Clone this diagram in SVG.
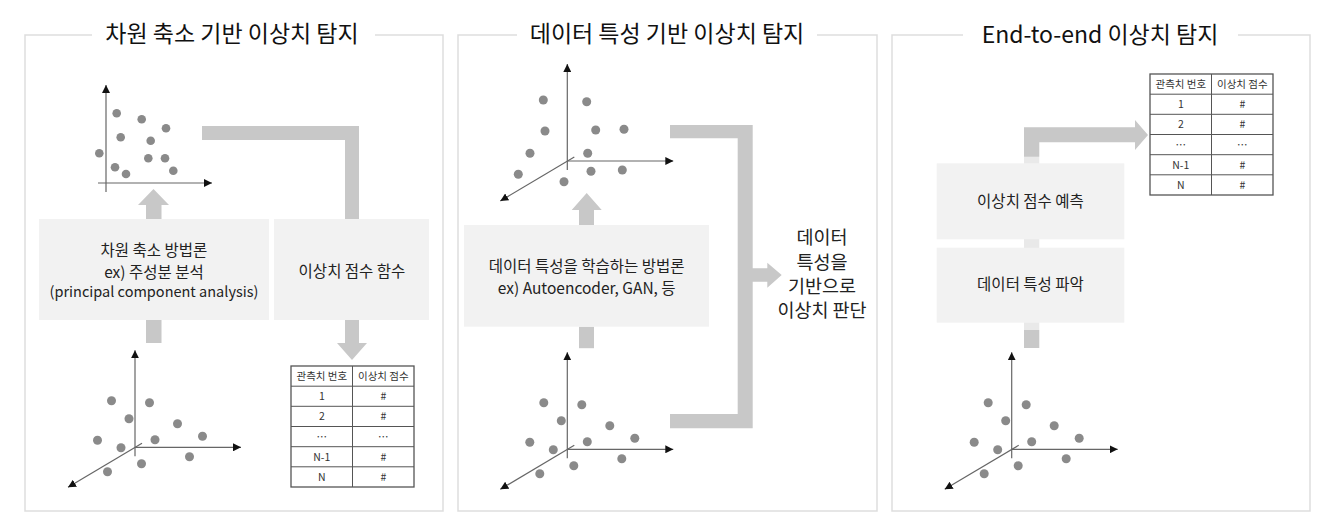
<svg xmlns="http://www.w3.org/2000/svg" xmlns:xlink="http://www.w3.org/1999/xlink" width="1324" height="532" viewBox="0 0 1324 532">
<style>
text{font-family:"Noto Sans CJK KR","Noto Sans",sans-serif;fill:#222;text-anchor:middle}
.title{font-size:23px;font-weight:400;fill:#111}
.bt{font-size:15.5px}
.sm{font-size:14.5px}
.rt{font-size:18.5px}
.tt{font-size:10.5px;fill:#333}
.frame{fill:none;stroke:#dedede;stroke-width:1.5}
.box{fill:#f2f2f2}
.conn{fill:#c8c8c8}
.ax{stroke:#666;stroke-width:1.2;fill:none}
.dot{fill:#8a8a8a}
.tbl{fill:#fff;stroke:#555;stroke-width:1.3}
.tl{stroke:#555;stroke-width:1}
</style>
<defs>
<marker id="ah" viewBox="0 0 10 10" refX="10" refY="5" markerWidth="8" markerHeight="8" markerUnits="userSpaceOnUse" orient="auto">
<path d="M0,0 L10,5 L0,10 Z" fill="#111"/>
</marker>
<g id="axes3d">
<line class="ax" x1="0" y1="9" x2="0" y2="-97" marker-end="url(#ah)"/>
<line class="ax" x1="0" y1="0" x2="106" y2="0" marker-end="url(#ah)"/>
<line class="ax" x1="7" y1="-4" x2="-67" y2="40" marker-end="url(#ah)"/>
</g>
<g id="dotsA">
<circle class="dot" cx="-23.5" cy="-46.5" r="4.5"/>
<circle class="dot" cx="14.5" cy="-44.5" r="4.5"/>
<circle class="dot" cx="-6" cy="-28.5" r="4.5"/>
<circle class="dot" cx="42.5" cy="-23.5" r="4.5"/>
<circle class="dot" cx="-37.5" cy="-7" r="4.5"/>
<circle class="dot" cx="20" cy="-7.5" r="4.5"/>
<circle class="dot" cx="67.5" cy="-11" r="4.5"/>
<circle class="dot" cx="-14" cy="0.5" r="4.5"/>
<circle class="dot" cx="54.5" cy="9.5" r="4.5"/>
<circle class="dot" cx="6.5" cy="16.5" r="4.5"/>
<circle class="dot" cx="-27.5" cy="24.5" r="4.5"/>
</g>
<g id="table">
<rect class="tbl" x="0" y="0" width="123" height="121"/>
<line class="tl" x1="61.5" y1="0" x2="61.5" y2="121"/>
<line class="tl" x1="0" y1="20.2" x2="123" y2="20.2"/>
<line class="tl" x1="0" y1="40.3" x2="123" y2="40.3"/>
<line class="tl" x1="0" y1="60.5" x2="123" y2="60.5"/>
<line class="tl" x1="0" y1="80.7" x2="123" y2="80.7"/>
<line class="tl" x1="0" y1="100.8" x2="123" y2="100.8"/>
<text class="tt" x="30.8" y="14">관측치 번호</text>
<text class="tt" x="92.3" y="14">이상치 점수</text>
<text class="tt" x="30.8" y="34.2">1</text><text class="tt" x="92.3" y="34.2">#</text>
<text class="tt" x="30.8" y="54.3">2</text><text class="tt" x="92.3" y="54.3">#</text>
<text class="tt" x="30.8" y="74.5">⋯</text><text class="tt" x="92.3" y="74.5">⋯</text>
<text class="tt" x="30.8" y="94.7">N-1</text><text class="tt" x="92.3" y="94.7">#</text>
<text class="tt" x="30.8" y="114.8">N</text><text class="tt" x="92.3" y="114.8">#</text>
</g>
</defs>

<!-- Panel frames -->
<g id="panel1-frame">
<path class="frame" d="M92,35 H25 V511 H443 V35 H375"/>
<text class="title" x="232" y="42">차원 축소 기반 이상치 탐지</text>
</g>
<g id="panel2-frame">
<path class="frame" d="M517,35 H458 V511 H877 V35 H817"/>
<text class="title" x="667" y="42">데이터 특성 기반 이상치 탐지</text>
</g>
<g id="panel3-frame">
<path class="frame" d="M963,35 H892 V511 H1310 V35 H1238"/>
<text class="title" x="1100" y="43">End-to-end 이상치 탐지</text>
</g>

<!-- Connectors -->
<g id="connectors">
<polygon class="conn" points="138,205 153.5,189 169,205 161.5,205 161.5,219 146,219 146,205"/>
<rect class="conn" x="146" y="320" width="15.5" height="23"/>
<path class="conn" d="M202,126 H359 V219 H345 V140 H202 Z"/>
<polygon class="conn" points="345,320 359,320 359,343 367,343 352,360 337,343 345,343"/>
<polygon class="conn" points="571.7,210 586.7,193 601.7,210 594,210 594,225 579,225 579,210"/>
<rect class="conn" x="579" y="326.7" width="15" height="21.5"/>
<path class="conn" d="M670,125 H752.7 V268.3 H767.3 V262.7 L781.7,275 L767.3,287.7 V281.7 H752.7 V428.3 H670 V414 H737.7 V138.3 H670 Z"/>
<path class="conn" d="M1024,348 V127.3 H1135 V120 L1148,135 L1135,150 V142.3 H1039.3 V348 Z"/>
</g>

<!-- Panel 1 nodes -->
<g id="p1-scatter2d">
<line class="ax" x1="106" y1="192" x2="106" y2="85" marker-end="url(#ah)"/>
<line class="ax" x1="98" y1="183" x2="212" y2="183" marker-end="url(#ah)"/>
<circle class="dot" cx="116.7" cy="113.3" r="4.3"/>
<circle class="dot" cx="141.7" cy="119.3" r="4.3"/>
<circle class="dot" cx="166" cy="128.3" r="4.3"/>
<circle class="dot" cx="120.7" cy="137.3" r="4.3"/>
<circle class="dot" cx="150.7" cy="140.7" r="4.3"/>
<circle class="dot" cx="99.3" cy="153.3" r="4.3"/>
<circle class="dot" cx="148.3" cy="158.3" r="4.3"/>
<circle class="dot" cx="165" cy="158.3" r="4.3"/>
<circle class="dot" cx="115" cy="167.3" r="4.3"/>
<circle class="dot" cx="126" cy="174" r="4.3"/>
<circle class="dot" cx="173.3" cy="170.7" r="4.3"/>
</g>
<g id="p1-method">
<rect class="box" x="39" y="219" width="230" height="101"/>
<text class="bt" x="154" y="255.5">차원 축소 방법론</text>
<text class="bt" x="154" y="277.5">ex) 주성분 분석</text>
<text class="sm" x="154" y="297">(principal component analysis)</text>
</g>
<g id="p1-score">
<rect class="box" x="274" y="219" width="155" height="101"/>
<text class="bt" x="352" y="277">이상치 점수 함수</text>
</g>
<g id="p1-scatter3d">
<use xlink:href="#axes3d" x="135" y="447.3"/>
<use xlink:href="#dotsA" x="135" y="447.3"/>
</g>
<g id="p1-table">
<use xlink:href="#table" x="291" y="366"/>
</g>

<!-- Panel 2 nodes -->
<g id="p2-scatter-top">
<use xlink:href="#axes3d" x="567.3" y="161"/>
<g transform="translate(567.3,161)">
<circle class="dot" cx="-24" cy="-61" r="4.5"/>
<circle class="dot" cx="19.4" cy="-59.3" r="4.5"/>
<circle class="dot" cx="-22.3" cy="-30" r="4.5"/>
<circle class="dot" cx="28.4" cy="-31" r="4.5"/>
<circle class="dot" cx="56.7" cy="-31.7" r="4.5"/>
<circle class="dot" cx="-37.3" cy="-7.7" r="4.5"/>
<circle class="dot" cx="20.4" cy="-7.7" r="4.5"/>
<circle class="dot" cx="-49" cy="13.3" r="4.5"/>
<circle class="dot" cx="23.7" cy="10.3" r="4.5"/>
<circle class="dot" cx="55" cy="9" r="4.5"/>
<circle class="dot" cx="-3.3" cy="20.7" r="4.5"/>
</g>
</g>
<g id="p2-method">
<rect class="box" x="464" y="225" width="245" height="101.7"/>
<text class="bt" x="586.7" y="271.5">데이터 특성을 학습하는 방법론</text>
<text class="bt" x="586.7" y="293.5">ex) Autoencoder, GAN, 등</text>
</g>
<g id="p2-scatter-bottom">
<use xlink:href="#axes3d" x="567.3" y="449.3"/>
<use xlink:href="#dotsA" x="567.3" y="449.3"/>
</g>
<g id="p2-judge">
<text class="rt" x="822" y="244">데이터</text>
<text class="rt" x="822" y="268.5">특성을</text>
<text class="rt" x="822" y="292.5">기반으로</text>
<text class="rt" x="822" y="316.5">이상치 판단</text>
</g>

<!-- Panel 3 nodes -->
<g id="p3-model">
<rect x="930" y="156.7" width="205" height="173.3" fill="#fff" opacity="0.6"/>
</g>
<g id="p3-predict">
<rect class="box" x="936.7" y="163.3" width="187.6" height="76"/>
<text class="bt" x="1030.5" y="207">이상치 점수 예측</text>
</g>
<g id="p3-feature">
<rect class="box" x="936.7" y="247.7" width="187.6" height="75"/>
<text class="bt" x="1030.5" y="290">데이터 특성 파악</text>
</g>
<g id="p3-scatter">
<use xlink:href="#axes3d" x="1011.7" y="449.3"/>
<use xlink:href="#dotsA" x="1011.7" y="449.3"/>
</g>
<g id="p3-table">
<use xlink:href="#table" x="1150" y="74"/>
</g>
</svg>
